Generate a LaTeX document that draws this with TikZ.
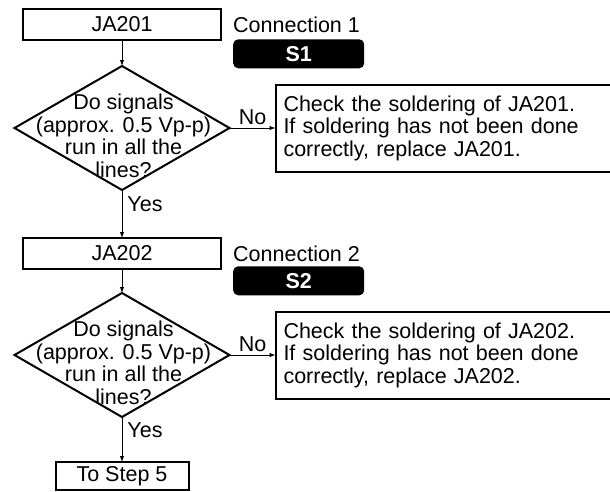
\documentclass[tikz,border=0pt]{standalone}
\usepackage{fontspec}
\setmainfont{Liberation Sans}
\usepackage{tikz}
\usetikzlibrary{positioning,shapes.geometric,arrows.meta}

\begin{document}
\begin{tikzpicture}[x=1pt, y=-1pt,
    every node/.style={font=\fontsize{21.5}{22.5}\selectfont},
    jabox/.style={draw, rectangle, line width=2pt, outer sep=0pt, minimum width=198pt, minimum height=31pt, inner sep=0pt},
    decision/.style={draw, diamond, line width=2pt, outer sep=0pt, minimum width=215pt, minimum height=124pt, inner sep=0pt},
    checkbox/.style={draw, rectangle, line width=2pt, outer sep=0pt, minimum width=340pt, minimum height=87pt, text width=324pt, align=left},
    sbox/.style={fill=black, rounded corners=5pt, minimum width=131pt, minimum height=29pt, inner sep=0pt, text=white, font=\fontsize{21.5}{22.5}\selectfont\bfseries},
    flow/.style={-{Latex[length=6pt,width=4.5pt]}, line width=0.9pt}]
    \useasboundingbox (0,0) rectangle (610,491);

    % Connection 1
    \node[jabox] (ja201) at (122,24.5) {JA201};
    \node[inner sep=0pt, right=12pt of ja201] (conn1) {Connection 1};
    \node[sbox, below=6.5pt of conn1.south west, anchor=north west] (s1) {S1};
    \node[decision, below=26pt of ja201] (dec1) {};
    \node[align=center] (ask1) at ([xshift=1.5pt, yshift=-8pt]dec1.center) {Do signals\\(approx. 0.5 Vp-p)\\run in all the\\lines?};
    \node[checkbox, right=46pt of dec1] (check1) {Check the soldering of JA201.\\If soldering has not been done\\correctly, replace JA201.};

    % Connection 2
    \node[jabox, below=48pt of dec1] (ja202) {JA202};
    \node[inner sep=0pt, right=12pt of ja202] (conn2) {Connection 2};
    \node[sbox, below=4.5pt of conn2.south west, anchor=north west] (s2) {S2};
    \node[decision, below=24pt of ja202] (dec2) {};
    \node[align=center] (ask2) at ([xshift=1.5pt, yshift=-8pt]dec2.center) {Do signals\\(approx. 0.5 Vp-p)\\run in all the\\lines?};
    \node[checkbox, right=46pt of dec2] (check2) {Check the soldering of JA202.\\If soldering has not been done\\correctly, replace JA202.};

    % Next step
    \node[draw, rectangle, line width=2pt, outer sep=0pt, minimum width=133pt, minimum height=28pt, inner sep=0pt, below=45pt of dec2] (step5) {To Step 5};

    % Connections
    \draw[flow] (ja201) -- (dec1);
    \draw[flow] (dec1) -- node[above] {No} (check1);
    \draw[flow] (dec1) -- node[right, pos=0.3, inner sep=5pt] {Yes} (ja202);
    \draw[flow] (ja202) -- (dec2);
    \draw[flow] (dec2) -- node[above] {No} (check2);
    \draw[flow] (dec2) -- node[right, pos=0.3, inner sep=5pt] {Yes} (step5);
\end{tikzpicture}
\end{document}
